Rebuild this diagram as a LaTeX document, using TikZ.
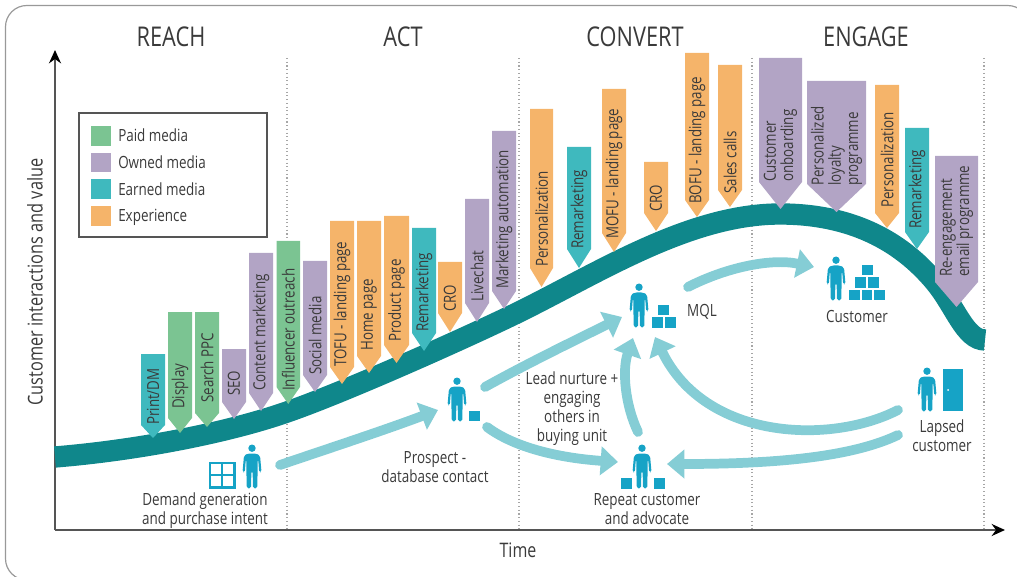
\documentclass[tikz,border=0pt]{standalone}
\usepackage{fontspec}
\setmainfont[FakeStretch=0.8]{Open Sans}
\usetikzlibrary{arrows.meta}
\definecolor{paid}{HTML}{7BC492}
\definecolor{owned}{HTML}{B2A4C5}
\definecolor{earned}{HTML}{3FB9BE}
\definecolor{expr}{HTML}{F5B46A}
\definecolor{curve}{HTML}{0F878B}
\definecolor{flow}{HTML}{85CDD5}
\definecolor{icon}{HTML}{16A3C6}
\definecolor{ink}{HTML}{3A3A3A}
\definecolor{axisc}{HTML}{555555}
\tikzset{
  head/.style={font=\fontsize{20.4}{22}\selectfont,text=ink,inner sep=0pt},
  lbl/.style={font=\fontsize{12.6}{14.3}\selectfont,text=ink,align=center,inner sep=0pt},
  bantext/.style={font=\fontsize{12.5}{12.9}\selectfont,text=ink,align=left,rotate=90,anchor=west,inner sep=0pt},
  flowarrow/.style={draw=flow,line width=7.3pt,line cap=round,-{Triangle[length=13pt,width=21pt]}},
  divider/.style={draw=gray!70,line width=0.8pt,dotted},
  axisline/.style={draw=axisc,line width=1.6pt,-{Stealth[length=10pt,width=9pt,color=black]}},
  person/.pic={
    \fill[icon] (0,4.2) circle (3.7);
    \fill[icon,rounded corners=1.3pt] (-4,9.5) -- (4,9.5) -- (8,11.5) -- (9.5,28) -- (7.2,28.5) -- (6.2,15.5) -- (5.6,15.5) -- (5.6,28) -- (5.2,44.3) -- (1,44.3) -- (0.6,27) -- (-0.6,27) -- (-1,44.3) -- (-5.2,44.3) -- (-5.6,28) -- (-5.6,15.5) -- (-6.2,15.5) -- (-7.2,28.5) -- (-9.5,28) -- (-8,11.5) -- cycle;
  }
}
% name, left, right, top, shoulder, tip, colour, text base y, text
\newcommand{\banner}[9]{%
  \fill[#7] (#2,#4) -- (#3,#4) -- (#3,#5) -- ({(#2+#3)/2},#6) -- (#2,#5) -- cycle;
  \node[bantext] (#1) at ({(#2+#3)/2},#8) {#9};
}
\newcommand{\blockat}[2]{\fill[icon] (#1,#2) rectangle ++(10.5,10.5);}
\begin{document}
\begin{tikzpicture}[x=0.75pt,y=-0.75pt]
\useasboundingbox (0,0) rectangle (1017,577);
\begin{scope}
\clip (0,0) rectangle (1017,577);
\draw[gray!80,line width=0.9pt,rounded corners=16pt] (5.5,5.5) rectangle (1029,580);
\end{scope}

% dividers
\draw[divider] (287,58) -- (287,530);
\draw[divider] (519,58) -- (519,530);
\draw[divider] (752,58) -- (752,530);
\draw[divider] (984,58) -- (984,530);

% axes
\coordinate (origin) at (55,530);
\coordinate (ytop) at (55,50);
\coordinate (xend) at (1005,530);
\draw[axisline] (origin) -- (ytop);
\draw[axisline] (origin) -- (xend);

% headings
\node[head] (reach) at (171,37) {REACH};
\node[head] (act) at (403,37) {ACT};
\node[head] (convert) at (635,37) {CONVERT};
\node[head] (engage) at (866,37) {ENGAGE};
\node[font=\fontsize{15}{17}\selectfont,text=ink,inner sep=0pt] (time) at (518,550) {Time};
\node[font=\fontsize{15.3}{17}\selectfont,text=ink,inner sep=0pt,rotate=90] (yl) at (35,282) {Customer interactions and value};

% curve
\draw[curve,line width=16pt] (55,457) .. controls (140,450) and (230,432) .. (287,412)
  .. controls (345,392) and (470,336) .. (519,312)
  .. controls (600,272) and (690,214) .. (780,214)
  .. controls (850,214) and (900,240) .. (935,282)
  .. controls (955,306) and (965,340) .. (985,340);

% legend
\node[draw=axisc,line width=1.4pt,minimum width=141pt,minimum height=93pt,inner sep=0pt,anchor=north west] (legend) at (78,112) {};
\node[fill=paid,minimum width=15pt,minimum height=14.5pt,inner sep=0pt,anchor=north west] (k1) at (91,126) {};
\node[fill=owned,minimum width=15pt,minimum height=14.5pt,inner sep=0pt,anchor=north west] (k2) at (91,152.5) {};
\node[fill=earned,minimum width=15pt,minimum height=14.5pt,inner sep=0pt,anchor=north west] (k3) at (91,179) {};
\node[fill=expr,minimum width=15pt,minimum height=14.5pt,inner sep=0pt,anchor=north west] (k4) at (91,206) {};
\node[lbl,anchor=west] (t1) at (118,135.5) {Paid media};
\node[lbl,anchor=west] (t2) at (118,162) {Owned media};
\node[lbl,anchor=west] (t3) at (118,189) {Earned media};
\node[lbl,anchor=west] (t4) at (118,217.5) {Experience};

% banners
\banner{b1}{141}{165}{354}{425}{438}{earned}{425}{Print/DM}
\banner{b2}{168}{192}{312}{418}{433}{paid}{409}{Display}
\banner{b3}{195}{219}{312}{413}{427}{paid}{403}{Search PPC}
\banner{b4}{222}{246}{349}{402}{419}{owned}{396}{SEO}
\banner{b5}{249}{273}{253}{393}{411}{owned}{391}{Content marketing}
\banner{b6}{276.5}{300}{241}{387}{404}{paid}{391}{Influencer outreach}
\banner{b7}{303}{327}{261}{375}{392}{owned}{375}{Social media}
\banner{b8}{330}{354}{221}{367}{384}{expr}{367}{TOFU - landing page}
\banner{b9}{357}{381}{221}{356}{373}{expr}{351}{Home page}
\banner{b10}{384}{409}{216}{345}{363}{expr}{342}{Product page}
\banner{b11}{412}{436}{228}{333}{351}{earned}{332}{Remarketing}
\banner{b12}{438}{462}{262}{313}{332}{expr}{312}{CRO}
\banner{b13}{465}{489}{199}{303}{322}{owned}{302}{Livechat}
\banner{b14}{492}{516}{131}{291}{309}{owned}{289}{Marketing automation}
\banner{b15}{530}{553}{109}{268}{287}{expr}{267}{Personalization}
\banner{b16}{567}{591}{147}{249}{268}{earned}{249}{Remarketing}
\banner{b17}{602}{626}{89}{233}{252}{expr}{239}{MOFU - landing page}
\banner{b18}{644}{668}{162}{213}{231}{expr}{212}{CRO}
\banner{b19}{685}{709}{53}{200}{217}{expr}{204}{BOFU - landing page}
\banner{b20}{718}{742}{65}{190}{207}{expr}{194}{Sales calls}
\banner{b21}{759}{802}{58}{182}{209}{owned}{182}{Customer\\onboarding}
\banner{b22}{807}{866}{81}{184}{212}{owned}{186}{Personalized\\loyalty\\programme}
\banner{b23}{875}{899}{85}{213}{228}{expr}{208}{Personalization}
\banner{b24}{905}{929}{128}{232}{249}{earned}{229}{Remarketing}
\banner{b25}{935}{978}{156}{282}{307}{owned}{277}{Re-engagement\\email programme}

% connector end points
\coordinate (demandout) at (280,465);
\coordinate (prospectin) at (438,410);
\coordinate (prospectup) at (485,387);
\coordinate (mqlleft) at (622,317);
\coordinate (prospectdown) at (487,427);
\coordinate (repeatleft) at (618,462);
\coordinate (repeatup) at (638,432);
\coordinate (mqlbottom) at (633,338);
\coordinate (mqlout) at (688,287);
\coordinate (custin) at (814,267);
\coordinate (lapsedup) at (898,410);
\coordinate (mqlright) at (655,337);
\coordinate (lapseddown) at (898,435);
\coordinate (repeatright) at (667,464);

% flows
\draw[flowarrow] (demandout) .. controls (330,448) and (385,430) .. (prospectin);
\draw[flowarrow] (prospectup) .. controls (530,362) and (580,338) .. (mqlleft);
\draw[flowarrow] (prospectdown) .. controls (515,448) and (560,458) .. (repeatleft);
\draw[flowarrow] (repeatup) .. controls (625,405) and (622,370) .. (mqlbottom);
\draw[flowarrow] (mqlout) .. controls (725,268) and (770,258) .. (custin);
\draw[flowarrow] (lapsedup) .. controls (830,445) and (705,440) .. (mqlright);
\draw[flowarrow] (lapseddown) .. controls (850,458) and (770,464) .. (repeatright);

% icons
\pic (pdemand) at (252,444) {person};
\pic (pprospect) at (457,377) {person};
\pic (pmql) at (639,283) {person};
\pic (prepeat) at (642,444) {person};
\pic (pcustomer) at (836,256) {person};
\pic (plapsed) at (927,367) {person};
% window
\draw[icon,line width=1.6pt] (210,463) rectangle (234.5,487.5);
\draw[icon,line width=1.6pt] (222,463) -- (222,487.5) (210,475) -- (234.5,475);
% blocks
\blockat{469}{410.5}
\blockat{658}{304.5}\blockat{652}{317}\blockat{665}{317}
\blockat{621}{478}\blockat{654}{478}
\blockat{862}{265}\blockat{855}{277.5}\blockat{868}{277.5}\blockat{849}{290}\blockat{861.5}{290}\blockat{874}{290}
% door
\fill[icon] (943,369) rectangle (963,411);
\fill[white] (948,390) circle (1);

% labels
\node[lbl] (ldemand) at (205,511) {Demand generation\\and purchase intent};
\node[lbl] (lprospect) at (435,467) {Prospect -\\database contact};
\node[lbl] (lnurture) at (572,409) {Lead nurture +\\engaging\\others in\\buying unit};
\node[lbl] (lrepeat) at (647,509) {Repeat customer\\and advocate};
\node[lbl] (lmql) at (702,311.5) {MQL};
\node[lbl] (lcustomer) at (857,316) {Customer};
\node[lbl] (llapsed) at (942,436) {Lapsed\\customer};
\end{tikzpicture}
\end{document}
